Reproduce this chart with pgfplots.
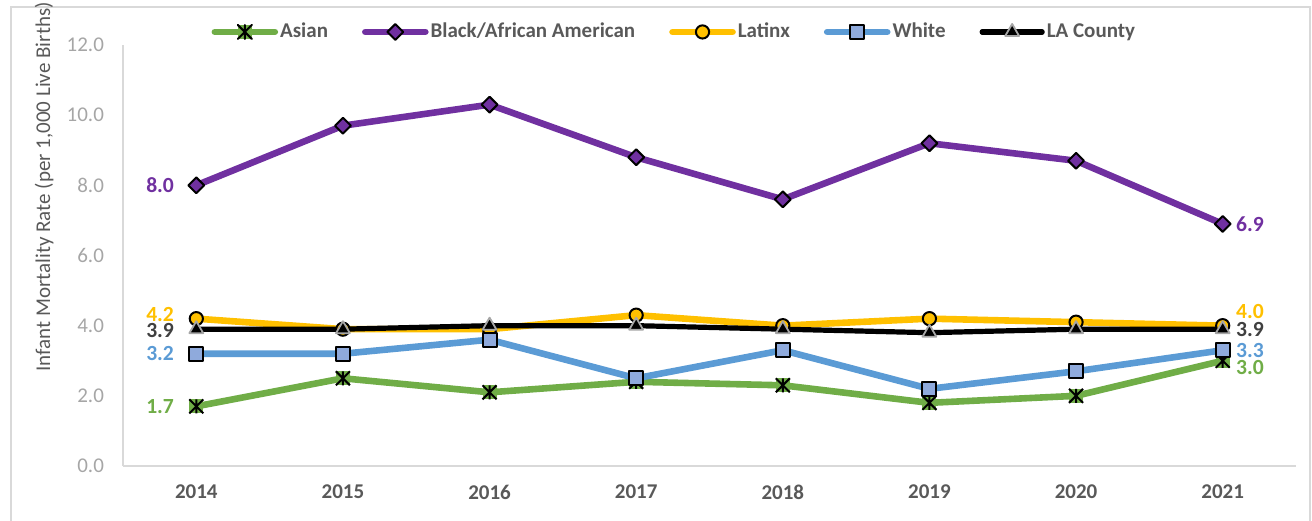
\documentclass[border=0pt]{standalone}
\usepackage{fontspec}
\setmainfont{Carlito}
\usepackage{pgfplots}
\pgfplotsset{compat=1.18}
\definecolor{cAsian}{HTML}{70AD47}
\definecolor{cBlack}{HTML}{7030A0}
\definecolor{cLatinx}{HTML}{FFC000}
\definecolor{cWhite}{HTML}{5B9BD5}
\definecolor{cWhiteFill}{HTML}{8FAADC}
\definecolor{cLA}{HTML}{000000}
\definecolor{cLAlab}{HTML}{404040}
\definecolor{triEdge}{HTML}{A6A6A6}
\definecolor{textC}{HTML}{595959}
\definecolor{tickC}{HTML}{A6A6A6}
\definecolor{axisC}{HTML}{D9D9D9}
\definecolor{frameC}{HTML}{D9D9D9}

\pgfdeclareplotmark{xstar}{%
  \pgfpathrectangle{\pgfqpoint{-\pgfplotmarksize}{-\pgfplotmarksize}}{\pgfqpoint{2\pgfplotmarksize}{2\pgfplotmarksize}}%
  \pgfsetfillcolor{cAsian}\pgfusepath{fill}%
  \pgfsetstrokecolor{black}\pgfsetlinewidth{1pt}%
  \pgfpathmoveto{\pgfqpoint{0pt}{-\pgfplotmarksize}}\pgfpathlineto{\pgfqpoint{0pt}{\pgfplotmarksize}}%
  \pgfpathmoveto{\pgfqpoint{-\pgfplotmarksize}{-\pgfplotmarksize}}\pgfpathlineto{\pgfqpoint{\pgfplotmarksize}{\pgfplotmarksize}}%
  \pgfpathmoveto{\pgfqpoint{-\pgfplotmarksize}{\pgfplotmarksize}}\pgfpathlineto{\pgfqpoint{\pgfplotmarksize}{-\pgfplotmarksize}}%
  \pgfusepath{stroke}%
}

\pgfplotstableread{
x Asian Black Latinx White LA
0 1.7 8.0 4.2 3.2 3.9
1 2.5 9.7 3.9 3.2 3.9
2 2.1 10.3 3.9 3.6 4.0
3 2.4 8.8 4.3 2.5 4.0
4 2.3 7.6 4.0 3.3 3.9
5 1.8 9.2 4.2 2.2 3.8
6 2.0 8.7 4.1 2.7 3.9
7 3.0 6.9 4.0 3.3 3.9
}\datatable

\begin{document}
\begin{tikzpicture}
\useasboundingbox (0pt,0pt) rectangle (656pt,260pt);
\draw[color=frameC, line width=0.9pt] (5.5pt,-2pt) -- (5.5pt,256.5pt) -- (655pt,256.5pt) -- (655pt,-2pt);
\begin{axis}[
  at={(61.5pt,27pt)}, anchor=south west,
  scale only axis, width=586.5pt, height=210.5pt,
  xmin=-0.5, xmax=7.5, ymin=0, ymax=12,
  xtick={0,1,2,3,4,5,6,7},
  xticklabels={2014,2015,2016,2017,2018,2019,2020,2021},
  ytick={0,2,4,6,8,10,12},
  axis x line*=bottom, axis y line*=left,
  axis line style={color=axisC, line width=0.7pt, -},
  major tick length=0pt,
  /pgf/number format/assume math mode=true,
  yticklabel={\pgfmathprintnumber[fixed,fixed zerofill,precision=1]{\tick}},
  y tick label style={font=\fontsize{10.5}{12}\selectfont, text=tickC, xshift=-6pt},
  x tick label style={font=\bfseries\fontsize{10.5}{12}\selectfont, text=textC, yshift=-6pt},
  ylabel={Infant Mortality Rate (per 1,000 Live Births)},
  ylabel style={at={(axis description cs:-0.0673,0.663)}, anchor=center, font=\fontsize{10.5}{12}\selectfont, text=textC},
  legend columns=5,
  legend style={at={(0.470,1.031)}, anchor=center, draw=none, fill=none,
    font=\bfseries\fontsize{10.5}{12}\selectfont, text=textC,
    /tikz/every even column/.append style={column sep=16pt},
    nodes={inner xsep=1pt}},
  legend image code/.code={\draw[mark repeat=2, mark phase=2, line cap=round, #1] plot coordinates {(0pt,0pt) (15pt,0pt) (30pt,0pt)};},
  every axis plot/.append style={line join=round},
]
\addplot[color=cAsian, line width=3.3pt, mark=xstar, mark size=3.5pt] table[x=x,y=Asian]{\datatable};
\addlegendentry{Asian}
\addplot[color=cBlack, line width=3.3pt, mark=square*, mark size=2.8pt, mark options={rotate=45, fill=cBlack, draw=black, line width=1pt}] table[x=x,y=Black]{\datatable};
\addlegendentry{Black/African American}
\addplot[color=cLatinx, line width=3.3pt, mark=*, mark size=3.3pt, mark options={fill=cLatinx, draw=black, line width=1pt}] table[x=x,y=Latinx]{\datatable};
\addlegendentry{Latinx}
\addplot[color=cWhite, line width=3.3pt, mark=square*, mark size=3.5pt, mark options={fill=cWhiteFill, draw=black, line width=1pt}] table[x=x,y=White]{\datatable};
\addlegendentry{White}
\addplot[color=cLA, line width=2.6pt, mark=triangle*, mark size=4pt, mark options={fill=black, draw=triEdge, line width=0.9pt}] table[x=x,y=LA]{\datatable};
\addlegendentry{LA County}

\begin{scope}[every node/.style={inner sep=0pt, font=\bfseries\fontsize{10.8}{12}\selectfont}]
\node[anchor=east, text=cBlack, xshift=-11pt] at (axis cs:0,8.0) {8.0};
\node[anchor=east, text=cLatinx, xshift=-11pt, yshift=2pt] at (axis cs:0,4.2) {4.2};
\node[anchor=east, text=cLAlab, xshift=-11pt, yshift=-0.5pt] at (axis cs:0,3.9) {3.9};
\node[anchor=east, text=cWhite, xshift=-11pt] at (axis cs:0,3.2) {3.2};
\node[anchor=east, text=cAsian, xshift=-11pt] at (axis cs:0,1.7) {1.7};
\node[anchor=west, text=cBlack, xshift=6.5pt] at (axis cs:7,6.9) {6.9};
\node[anchor=west, text=cLatinx, xshift=6.5pt, yshift=7pt] at (axis cs:7,4.0) {4.0};
\node[anchor=west, text=cLAlab, xshift=6.5pt] at (axis cs:7,3.9) {3.9};
\node[anchor=west, text=cWhite, xshift=6.5pt] at (axis cs:7,3.3) {3.3};
\node[anchor=west, text=cAsian, xshift=6.5pt, yshift=-3.5pt] at (axis cs:7,3.0) {3.0};
\end{scope}
\end{axis}
\end{tikzpicture}
\end{document}
